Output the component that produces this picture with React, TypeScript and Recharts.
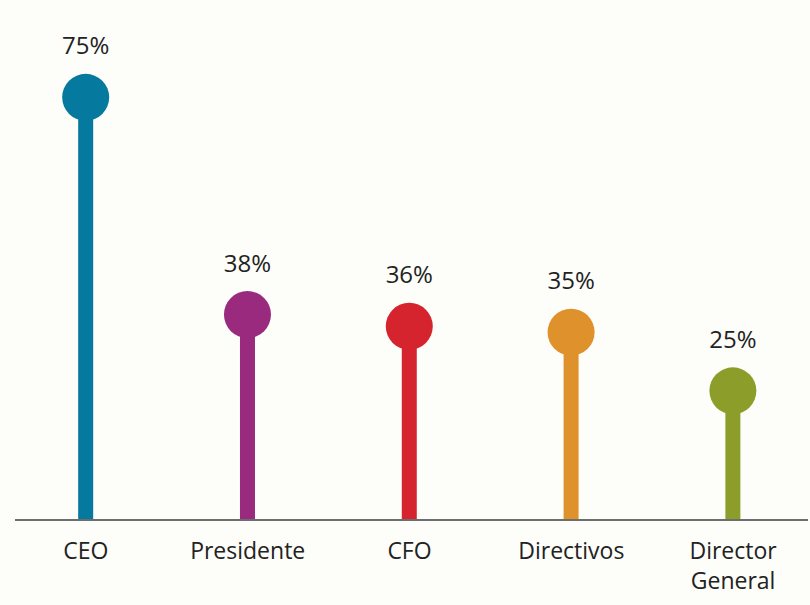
import { BarChart, Bar, XAxis, YAxis, Cell, LabelList, ReferenceLine } from 'recharts'

const categories = ['CEO', 'Presidente', 'CFO', 'Directivos', 'Director General']
const values = [75, 38, 36, 35, 25]
const colors = ['#06799f', '#9a2a7d', '#d6242f', '#df912b', '#8d9d2a']

const data = categories.map((name, i) => ({ name, value: values[i] }))

const FONT = '"Open Sans", "Noto Sans", sans-serif'

function Lollipop(props: any) {
  const { x, y, width, height, fill } = props
  const cx = x + width / 2
  const stem = 15
  return (
    <g>
      <rect x={cx - stem / 2} y={y} width={stem} height={height} fill={fill} />
      <circle cx={cx} cy={y} r={23.5} fill={fill} />
    </g>
  )
}

function ValueLabel(props: any) {
  const { x, y, width, value } = props
  return (
    <text x={x + width / 2} y={y - 43} textAnchor="middle" fontSize={24} fill="#222" fontFamily={FONT}>
      {value}%
    </text>
  )
}

function CategoryTick(props: any) {
  const { x, y, payload } = props
  const lines = payload.value === 'Director General' ? ['Director', 'General'] : [payload.value]
  return (
    <text x={x} y={y + 31} textAnchor="middle" fontSize={23} fill="#222" fontFamily={FONT}>
      {lines.map((l, i) => (
        <tspan key={l} x={x} dy={i === 0 ? 0 : 30}>
          {l}
        </tspan>
      ))}
    </text>
  )
}

function AxisLine(props: any) {
  const { x1, y1, x2 } = props
  return <line x1={x1 + 10} y1={y1} x2={x2 - 6} y2={y1} stroke="#6b6e6e" strokeWidth={2} />
}

export default function App() {
  return (
    <div style={{ width: 810, height: 605, background: '#fdfdf9' }}>
      <style>{'body{margin:0}'}</style>
      <BarChart width={810} height={605} data={data} margin={{ top: 68, right: -4, left: 5, bottom: 0 }}>
        <XAxis dataKey="name" axisLine={false} tickLine={false} tick={<CategoryTick />} interval={0} height={85} />
        <YAxis hide domain={[3, 80]} allowDataOverflow />
        <Bar dataKey="value" shape={<Lollipop />} isAnimationActive={false}>
          {data.map((d, i) => (
            <Cell key={d.name} fill={colors[i]} />
          ))}
          <LabelList dataKey="value" content={<ValueLabel />} />
        </Bar>
        <ReferenceLine y={3} shape={<AxisLine />} />
      </BarChart>
    </div>
  )
}
